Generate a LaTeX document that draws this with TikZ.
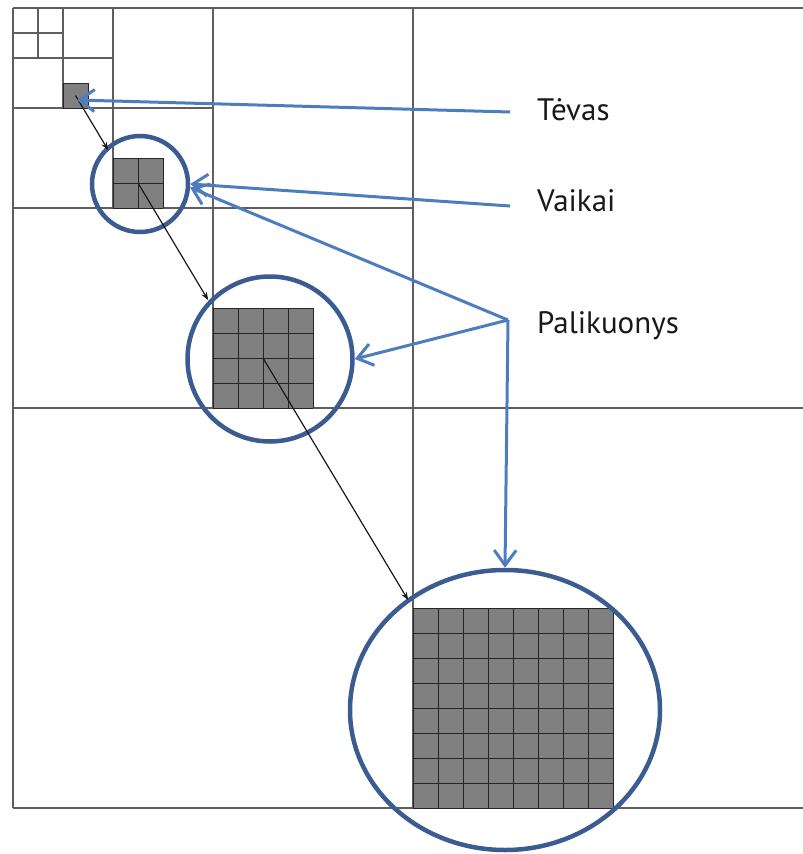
\documentclass[tikz,border=0pt]{standalone}
\usepackage{fontspec}
\setmainfont{PT Sans}
\usetikzlibrary{arrows.meta,shapes.geometric}
\definecolor{quadline}{RGB}{95,95,95}
\definecolor{cellfill}{RGB}{128,128,128}
\definecolor{ringblue}{RGB}{58,92,145}
\definecolor{arrowblue}{RGB}{76,126,190}
\begin{document}
\begin{tikzpicture}[x=1pt,y=-1pt,
  quad/.style={draw=quadline,line width=1.4pt},
  cellgrid/.style={draw=black!85,line width=1pt},
  ring/.style={circle,draw=ringblue,line width=4.5pt,inner sep=0pt},
  pointer/.style={draw=arrowblue,line width=3pt,
    -{Straight Barb[length=15pt,width=22pt,line width=3pt]}},
  descent/.style={draw=black!90,line width=1.2pt,
    -{Stealth[length=8pt,width=6pt]},shorten >=9pt},
  label/.style={anchor=base west,font=\fontsize{31}{35}\selectfont,inner sep=0pt,text=black!90}
]
\useasboundingbox (0,0) rectangle (803,854);
\clip (0,0) rectangle (803,854);

% quadtree subdivision lines
\draw[quad] (13,8) -- (813,8) (13,8) -- (13,808) (13,808) -- (813,808);
\draw[quad] (413,8) -- (413,808) (13,408) -- (813,408);
\draw[quad] (213,8) -- (213,408) (13,208) -- (413,208);
\draw[quad] (113,8) -- (113,208) (13,108) -- (213,108);
\draw[quad] (63,8) -- (63,108) (13,58) -- (113,58);
\draw[quad] (38,8) -- (38,58) (13,33) -- (63,33);

% shaded blocks: parent cell and its descendants
\node[fill=cellfill,cellgrid,minimum size=25pt,inner sep=0pt] (p) at (75.5,95.5) {};
\node[fill=cellfill,minimum size=50pt,inner sep=0pt] (c) at (138,183) {};
\node[fill=cellfill,minimum size=100pt,inner sep=0pt] (g) at (263,358) {};
\node[fill=cellfill,minimum size=200pt,inner sep=0pt] (h) at (513,708) {};
\foreach \i in {0,1,2} {
  \draw[cellgrid] (113+25*\i,158) -- (113+25*\i,208) (113,158+25*\i) -- (163,158+25*\i);
}
\foreach \i in {0,...,4} {
  \draw[cellgrid] (213+25*\i,308) -- (213+25*\i,408) (213,308+25*\i) -- (313,308+25*\i);
}
\foreach \i in {0,...,8} {
  \draw[cellgrid] (413+25*\i,608) -- (413+25*\i,808) (413,608+25*\i) -- (613,608+25*\i);
}

% rings around the descendant blocks
\node[ring,minimum size=96pt] (r1) at (140,184) {};
\node[ring,minimum size=165pt] (r2) at (270,359) {};
\node[ring,ellipse,minimum width=310pt,minimum height=280pt] (r3) at (505,710) {};

% parent-to-child links
\draw[descent] (p.center) -- (c.north west);
\draw[descent] (c.center) -- (g.north west);
\draw[descent] (g.center) -- (h.north west);

% labels
\node[label] (tevas) at (537,120) {Tėvas};
\node[label] (vaikai) at (537,211) {Vaikai};
\node[label] (palik) at (537,333) {Palikuonys};

\coordinate (t0) at (510,112);
\coordinate (tp) at (77,100);
\coordinate (v0) at (510,206);
\coordinate (j) at (508,320);

\draw[pointer] (t0) -- (tp);
\draw[pointer] (v0) -- (r1.east);
\draw[pointer] (j) -- (r1.-4);
\draw[pointer] (j) -- (r2.east);
\draw[pointer] (j) -- (r3.north);
\end{tikzpicture}
\end{document}
